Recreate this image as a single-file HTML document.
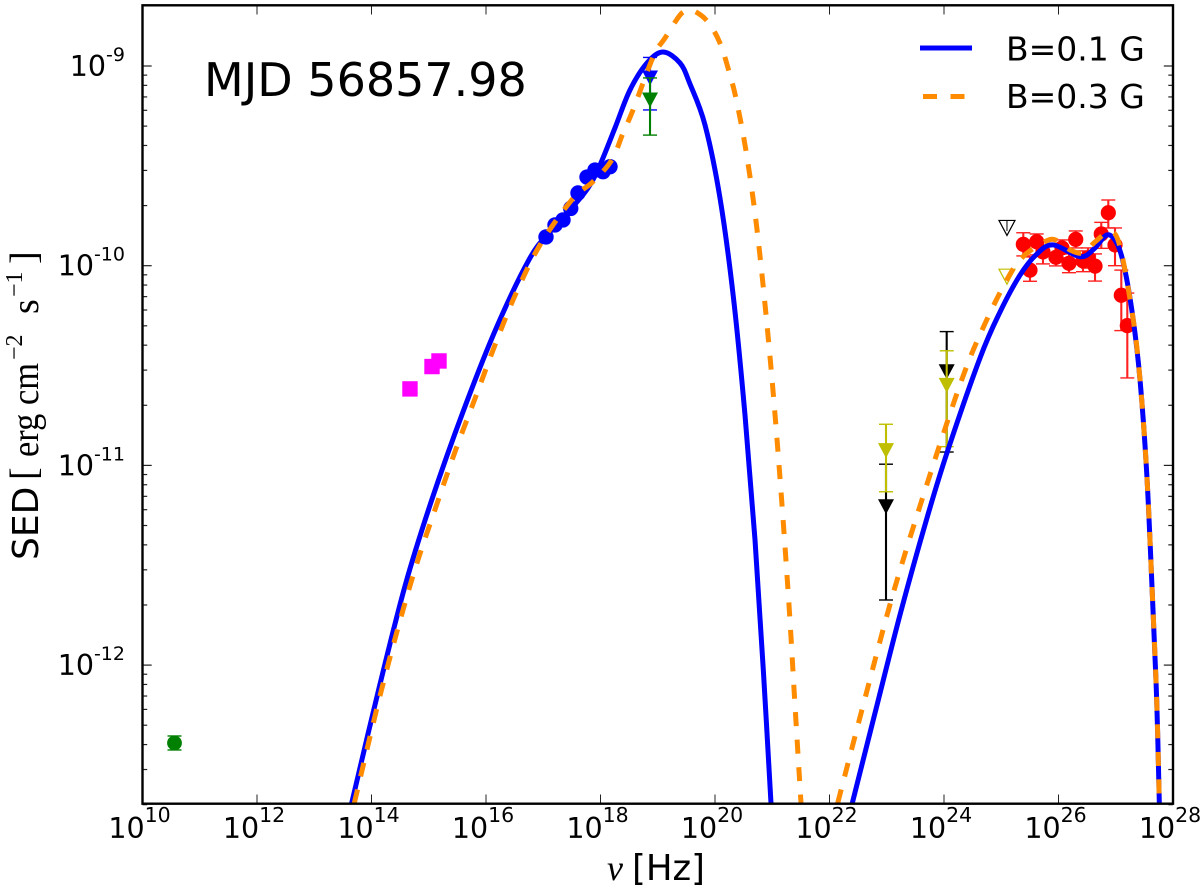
<!DOCTYPE html>
<html lang="en">
<head>
<meta charset="utf-8">
<title>MJD 56857.98 SED</title>
<style>
html,body{margin:0;padding:0;background:#fff;}
svg{display:block;}
text{font-family:"DejaVu Sans",sans-serif;fill:#000;}
.serif{font-family:"Liberation Serif",serif;}
</style>
</head>
<body>
<svg id="chart" xmlns="http://www.w3.org/2000/svg" width="1200" height="894" viewBox="0 0 1200 894">
  <defs><clipPath id="plot-clip"><rect x="142.5" y="5.3" width="1030.5" height="798.4"/></clipPath></defs>
  <rect x="0" y="0" width="1200" height="894" fill="#fff"/>
  <g id="marks" clip-path="url(#plot-clip)"></g>
  <g id="ticks"></g>
  <rect x="142.5" y="5.3" width="1030.5" height="798.4" fill="none" stroke="#000" stroke-width="2.4"/>
  <text x="204" y="96" font-size="46">MJD 56857.98</text>
  <line x1="920" y1="48" x2="972" y2="48" stroke="#0000ff" stroke-width="5"/>
  <text x="1006" y="60.7" font-size="33">B=0.1 G</text>
  <line x1="923" y1="96.5" x2="965" y2="96.5" stroke="#ff8c00" stroke-width="5" stroke-dasharray="14 13.5"/>
  <text x="1006" y="108" font-size="33">B=0.3 G</text>
  <g>
    <text class="serif" x="607" y="880" font-size="36" font-style="italic">ν</text>
    <text x="632" y="880" font-size="35.5">[Hz]</text>
  </g>
  <g transform="translate(38,558) rotate(-90)">
    <text x="-2" y="0" font-size="36">SED</text>
    <text class="serif" x="78" y="-2" font-size="38">[</text>
    <text class="serif" x="101" y="0" font-size="38" textLength="94" lengthAdjust="spacingAndGlyphs">erg cm</text>
    <text class="serif" x="198" y="-16" font-size="24">−2</text>
    <text class="serif" x="244" y="0" font-size="38">s</text>
    <text class="serif" x="261" y="-16" font-size="24">−1</text>
    <text class="serif" x="294" y="-2" font-size="38">]</text>
  </g>
</svg>
<script>
// All values are log10(nu / Hz) and log10(SED / erg cm^-2 s^-1)
const xTickExponents = [10,12,14,16,18,20,22,24,26,28];
const yTickExponents = [-9,-10,-11,-12];
const yMinorDecades = [-9,-10,-11,-12,-13];
const minorMultipliers = [2,3,4,5,6,7,8,9];

const blueSyncNu = [13.654,14.119,14.585,15.052,15.603,16.187,16.769,17.118,17.467,17.782,17.991,18.253,18.515,18.812,19.092,19.389,19.563,19.825,20.087,20.320,20.524,20.699,20.844,20.978];
const blueSyncSed = [-12.691,-12.130,-11.604,-11.173,-10.728,-10.307,-9.961,-9.831,-9.721,-9.611,-9.496,-9.310,-9.120,-8.985,-8.930,-8.985,-9.090,-9.295,-9.661,-10.155,-10.748,-11.374,-12.025,-12.691];
const blueIcNu = [22.398,22.795,23.240,23.698,24.057,24.629,24.978,25.328,25.624,25.904,26.376,26.620,26.847,27.017,27.144,27.301,27.424,27.541,27.638,27.715,27.761];
const blueIcSed = [-12.691,-12.240,-11.739,-11.268,-10.933,-10.462,-10.232,-10.047,-9.941,-9.896,-9.955,-9.916,-9.846,-9.886,-10.000,-10.262,-10.572,-11.038,-11.639,-12.175,-12.691];

const orangeSyncNu = [13.700,14.189,14.702,15.156,15.476,15.820,16.157,16.524,16.943,17.497,17.869,18.196,18.393,18.568,18.922,19.127,19.389,19.511,19.651,19.878,20.087,20.262,20.384,20.559,20.745,20.943,21.106,21.280,21.397,21.502];
const orangeSyncSed = [-12.691,-12.108,-11.574,-11.182,-10.918,-10.656,-10.397,-10.138,-9.896,-9.671,-9.579,-9.471,-9.336,-9.220,-8.953,-8.860,-8.745,-8.725,-8.727,-8.780,-8.885,-9.045,-9.185,-9.456,-9.846,-10.401,-10.953,-11.644,-12.200,-12.691];
const orangeIcNu = [22.143,22.620,23.114,23.698,24.309,24.681,25.095,25.380,25.794,25.991,26.201,26.428,26.638,26.900,27.074,27.301,27.424,27.541,27.638,27.715,27.761];
const orangeIcSed = [-12.691,-12.166,-11.639,-11.098,-10.572,-10.312,-10.072,-9.955,-9.875,-9.876,-9.921,-9.936,-9.881,-9.830,-9.905,-10.262,-10.572,-11.038,-11.639,-12.175,-12.691];

const redNu = [25.385,25.502,25.619,25.729,25.956,26.061,26.183,26.301,26.428,26.515,26.638,26.747,26.870,26.987,27.097,27.202];
const redSed = [-9.893,-10.022,-9.880,-9.931,-9.958,-9.911,-9.988,-9.868,-9.976,-9.961,-10.002,-9.841,-9.735,-9.896,-10.148,-10.300];
const redHigh = [-9.835,-9.956,-9.841,-9.871,-9.896,-9.871,-9.941,-9.826,-9.926,-9.911,-9.941,-9.783,-9.671,-9.811,-10.022,-10.137];
const redLow = [-9.951,-10.078,-9.946,-9.991,-10.001,-9.961,-10.035,-9.911,-10.030,-10.012,-10.077,-9.913,-9.811,-10.000,-10.325,-10.562];

const xrayNu = [17.048,17.205,17.345,17.480,17.607,17.764,17.904,18.044,18.166];
const xraySed = [-9.856,-9.796,-9.771,-9.713,-9.636,-9.556,-9.521,-9.529,-9.504];

const opticalNu = [14.672,15.057,15.179];
const opticalSed = [-10.617,-10.505,-10.477];

const radioNu = [10.559];
const radioSed = [-12.390];
const radioHigh = [-12.355];
const radioLow = [-12.425];

const hardXrayBlueNu = [18.865];
const hardXrayBlueSed = [-9.06];
const hardXrayBlueHigh = [-8.957];
const hardXrayBlueLow = [-9.22];
const hardXrayGreenNu = [18.865];
const hardXrayGreenSed = [-9.17];
const hardXrayGreenHigh = [-9.06];
const hardXrayGreenLow = [-9.346];

const limitBlackNu = [22.987,24.047];
const limitBlackSed = [-11.207,-10.531];
const limitBlackHigh = [-10.994,-10.330];
const limitBlackLow = [-11.674,-10.933];
const limitYellowNu = [22.987,24.047];
const limitYellowSed = [-10.926,-10.599];
const limitYellowHigh = [-10.794,-10.426];
const limitYellowLow = [-11.132,-10.906];

const openBlackNu = [25.100];
const openBlackSed = [-9.811];
const openYellowNu = [25.100];
const openYellowSed = [-10.055];

const NS = 'http://www.w3.org/2000/svg';
const X = v => 142.5 + 57.25 * (v - 10);
const Y = v => 66 + 199.7 * (-9 - v);
const marks = document.getElementById('marks');
const tickLayer = document.getElementById('ticks');

function mk(tag, attrs, parent) {
  const el = document.createElementNS(NS, tag);
  for (const k in attrs) el.setAttribute(k, attrs[k]);
  parent.appendChild(el);
  return el;
}

function smoothPath(xs, ys) {
  const p = xs.map((x, i) => [X(x), Y(ys[i])]);
  let d = 'M' + p[0][0].toFixed(2) + ' ' + p[0][1].toFixed(2);
  for (let i = 0; i < p.length - 1; i++) {
    const a = p[Math.max(i - 1, 0)], b = p[i], c = p[i + 1], e = p[Math.min(i + 2, p.length - 1)];
    const c1x = b[0] + (c[0] - a[0]) / 6, c1y = b[1] + (c[1] - a[1]) / 6;
    const c2x = c[0] - (e[0] - b[0]) / 6, c2y = c[1] - (e[1] - b[1]) / 6;
    d += 'C' + c1x.toFixed(2) + ' ' + c1y.toFixed(2) + ' ' + c2x.toFixed(2) + ' ' + c2y.toFixed(2) + ' ' + c[0].toFixed(2) + ' ' + c[1].toFixed(2);
  }
  return d;
}

function errorBar(nu, high, low, color, name) {
  const g = mk('g', {stroke: color, fill: 'none'}, marks);
  
  
  const x = X(nu), y1 = Y(high), y2 = Y(low);
  const stem = mk('line', {x1: x, x2: x, y1: y1, y2: y2, 'stroke-width': 2.1}, g);
  
  
  const capTop = mk('line', {x1: x - 7, x2: x + 7, y1: y1, y2: y1, 'stroke-width': 1.4}, g);
  
  
  const capBottom = mk('line', {x1: x - 7, x2: x + 7, y1: y2, y2: y2, 'stroke-width': 1.4}, g);
  
  
}

function triangle(nu, sed, fill, stroke, strokeWidth, name) {
  const x = X(nu), y = Y(sed);
  const pts = (x - 8) + ',' + (y - 7.5) + ' ' + (x + 8) + ',' + (y - 7.5) + ' ' + x + ',' + (y + 7.5);
  const t = mk('polygon', {points: pts, fill: fill, stroke: stroke, 'stroke-width': strokeWidth}, marks);
  
  
}

function circle(nu, sed, color, r, name) {
  const c = mk('circle', {cx: X(nu), cy: Y(sed), r: r, fill: color}, marks);
  
  
}

// Radio point
radioNu.forEach((v, i) => {
  errorBar(v, radioHigh[i], radioLow[i], '#008000', 'radio-error-bar');
  circle(v, radioSed[i], '#008000', 7.4, 'radio-point');
});

// Optical squares
opticalNu.forEach((v, i) => {
  const s = mk('rect', {x: X(v) - 7.7, y: Y(opticalSed[i]) - 7.7, width: 15.4, height: 15.4, fill: '#ff00ff'}, marks);
  
  
});

// X-ray points
xrayNu.forEach((v, i) => {
  circle(v, xraySed[i], '#0000ff', 7.7, 'xray-point');
});

// Hard X-ray limits
hardXrayBlueNu.forEach((v, i) => {
  errorBar(v, hardXrayBlueHigh[i], hardXrayBlueLow[i], '#0000ff', 'hard-xray-blue-error-bar');
  triangle(v, hardXrayBlueSed[i], '#0000ff', 'none', 0, 'hard-xray-blue-marker');
});
hardXrayGreenNu.forEach((v, i) => {
  errorBar(v, hardXrayGreenHigh[i], hardXrayGreenLow[i], '#008000', 'hard-xray-green-error-bar');
  triangle(v, hardXrayGreenSed[i], '#008000', 'none', 0, 'hard-xray-green-marker');
});

// Gamma-ray triangles
limitBlackNu.forEach((v, i) => {
  errorBar(v, limitBlackHigh[i], limitBlackLow[i], '#000000', 'black-limit-error-bar');
  triangle(v, limitBlackSed[i], '#000000', 'none', 0, 'black-limit-marker');
});
limitYellowNu.forEach((v, i) => {
  errorBar(v, limitYellowHigh[i], limitYellowLow[i], '#bfbf00', 'yellow-limit-error-bar');
  triangle(v, limitYellowSed[i], '#bfbf00', 'none', 0, 'yellow-limit-marker');
});

// Open upper limits
openBlackNu.forEach((v, i) => {
  triangle(v, openBlackSed[i], '#ffffff', '#000000', 1.2, 'open-black-limit');
  const stem = mk('line', {x1: X(v), x2: X(v), y1: Y(openBlackSed[i]) - 7, y2: Y(openBlackSed[i]) + 3, stroke: '#000', 'stroke-width': 1}, marks);
  
  
});
openYellowNu.forEach((v, i) => {
  triangle(v, openYellowSed[i], '#ffffff', '#bfbf00', 1.2, 'open-yellow-limit');
});

// Red gamma-ray data
redNu.forEach((v, i) => {
  errorBar(v, redHigh[i], redLow[i], '#ff2020', 'gamma-error-bar');
});
redNu.forEach((v, i) => {
  circle(v, redSed[i], '#ff0000', 7.6, 'gamma-point');
});

// Model curves
const blueSyncLine = mk('path', {d: smoothPath(blueSyncNu, blueSyncSed), fill: 'none', stroke: '#0000ff', 'stroke-width': 5}, marks);


const blueIcLine = mk('path', {d: smoothPath(blueIcNu, blueIcSed), fill: 'none', stroke: '#0000ff', 'stroke-width': 5}, marks);


const orangeSyncLine = mk('path', {d: smoothPath(orangeSyncNu, orangeSyncSed), fill: 'none', stroke: '#ff8c00', 'stroke-width': 5, 'stroke-dasharray': '14 13.5'}, marks);


const orangeIcLine = mk('path', {d: smoothPath(orangeIcNu, orangeIcSed), fill: 'none', stroke: '#ff8c00', 'stroke-width': 5, 'stroke-dasharray': '14 13.5'}, marks);



// X axis ticks and labels
xTickExponents.forEach(e => {
  const x = X(e);
  const tb = mk('line', {x1: x, x2: x, y1: 803.7, y2: 794.5, stroke: '#222', 'stroke-width': 1}, tickLayer);
  
  
  const tt = mk('line', {x1: x, x2: x, y1: 5.3, y2: 14.5, stroke: '#222', 'stroke-width': 1}, tickLayer);
  
  
  const lab = mk('text', {x: x - 3, y: 838, 'font-size': 28.5, 'text-anchor': 'middle'}, tickLayer);
  
  
  lab.appendChild(document.createTextNode('10'));
  const sup = mk('tspan', {dy: -16, 'font-size': 20.5}, lab);
  sup.textContent = String(e);
});

// Y axis ticks and labels
yTickExponents.forEach(e => {
  const y = Y(e);
  const tl = mk('line', {x1: 142.5, x2: 151.7, y1: y, y2: y, stroke: '#222', 'stroke-width': 1.2}, tickLayer);
  
  
  const tr = mk('line', {x1: 1173, x2: 1163.8, y1: y, y2: y, stroke: '#222', 'stroke-width': 1.2}, tickLayer);
  
  
  const lab = mk('text', {x: 125, y: y + 10, 'font-size': 28.5, 'text-anchor': 'end'}, tickLayer);
  
  
  lab.appendChild(document.createTextNode('10'));
  const sup = mk('tspan', {dy: -15, 'font-size': 19}, lab);
  sup.textContent = String(e);
});

// Y axis minor ticks
yMinorDecades.forEach(d => {
  minorMultipliers.forEach(m => {
    const v = d + Math.log10(m);
    if (v > -8.7 || v < -12.7) return;
    const y = Y(v);
    const ml = mk('line', {x1: 142.5, x2: 147.2, y1: y, y2: y, stroke: '#222', 'stroke-width': 1.2}, tickLayer);
    
    
    const mr = mk('line', {x1: 1173, x2: 1168.3, y1: y, y2: y, stroke: '#222', 'stroke-width': 1.2}, tickLayer);
    
    
  });
});
</script>
</body>
</html>
